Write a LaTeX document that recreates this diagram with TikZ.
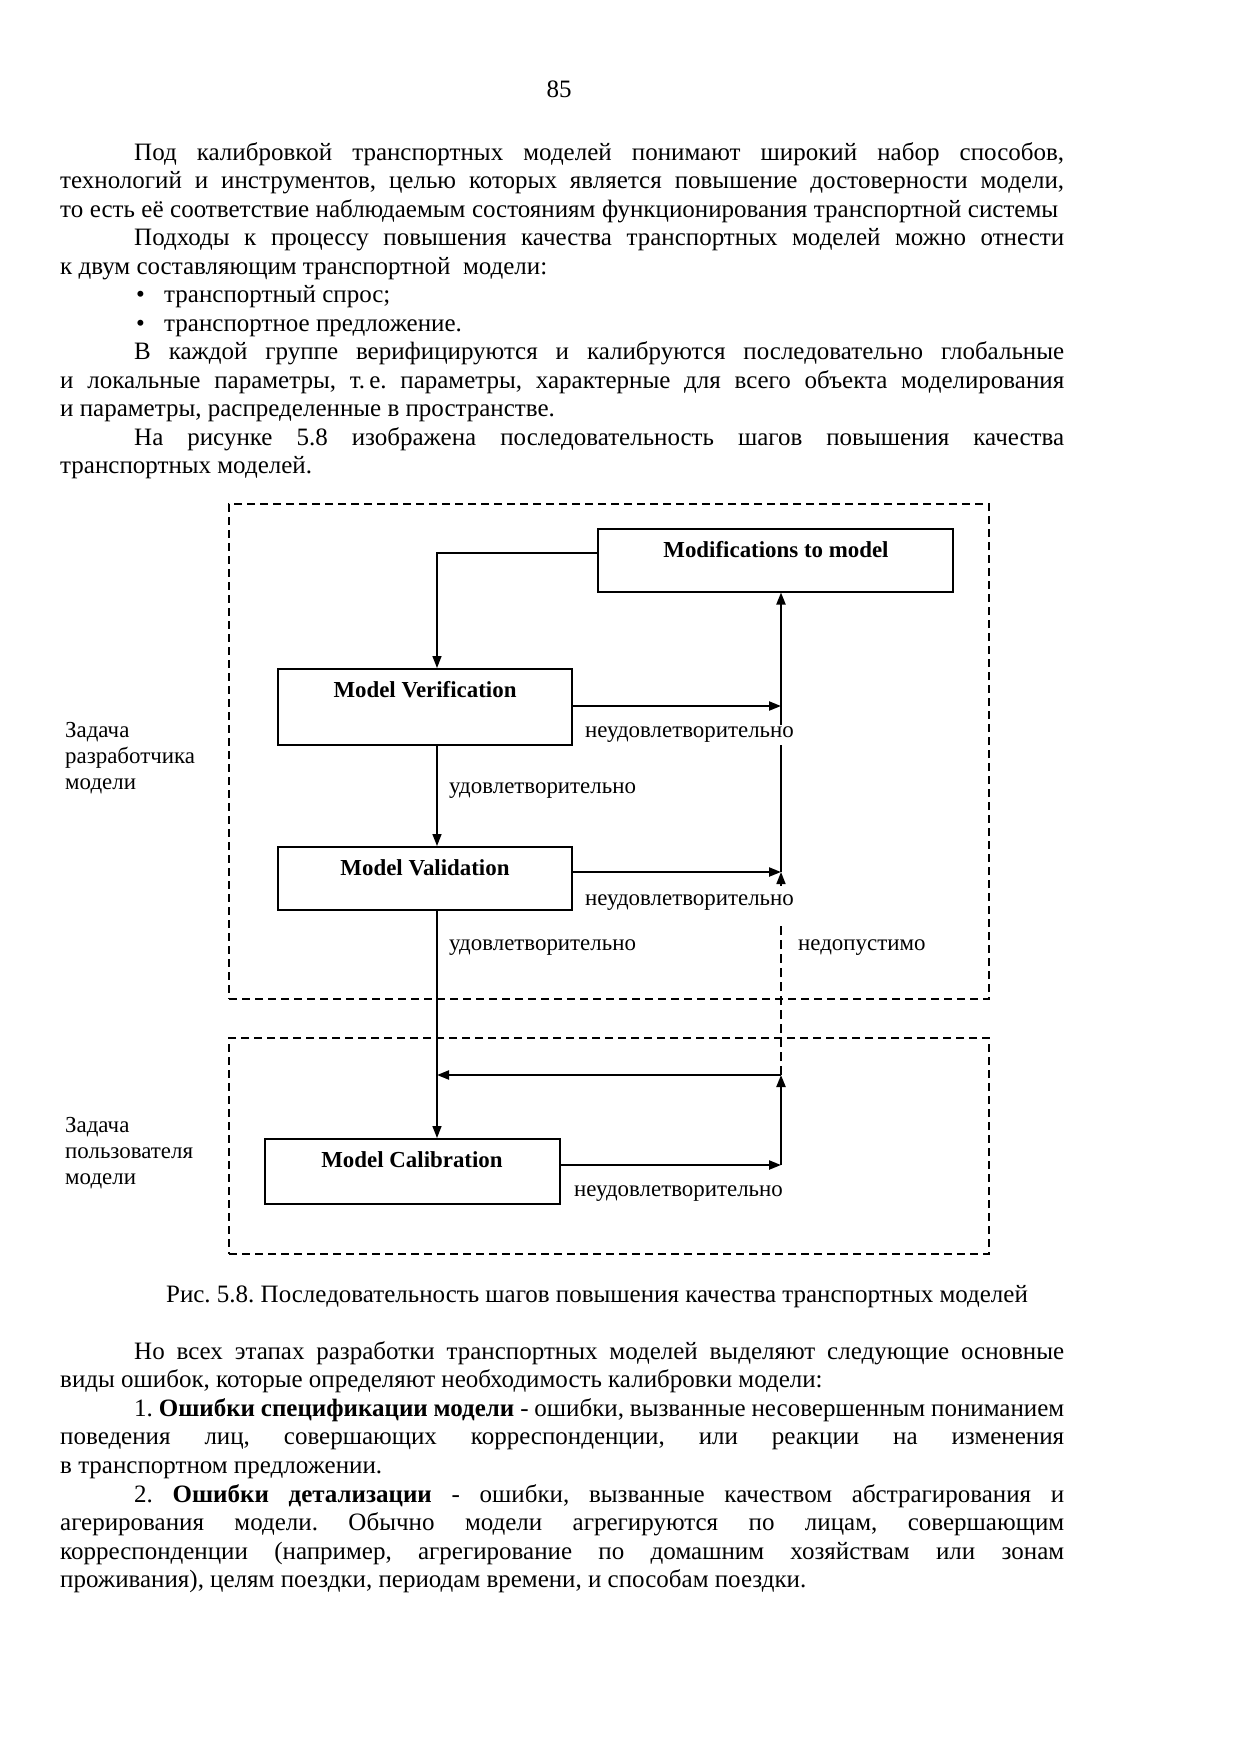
\documentclass[tikz,border=0pt]{standalone}
\usepackage{fontspec}
\setmainfont{Liberation Serif}
\usetikzlibrary{arrows.meta,calc}
\frenchspacing
\tikzset{
  body/.style={anchor=base west, inner sep=0pt, font=\fontsize{25}{28.75}\selectfont},
  diagfont/.style={font=\fontsize{22.9}{26.3}\selectfont},
  box/.style={draw, line width=1.5pt, anchor=north west, inner sep=0pt},
  boxtext/.style={font=\fontsize{22.9}{26.3}\selectfont\bfseries, inner sep=0pt},
  conn/.style={line width=2.2pt, -{Triangle[length=12pt,width=9pt]}},
  thinconn/.style={line width=1.5pt, -{Triangle[length=12pt,width=9pt]}},
  region/.style={draw, line width=2pt, dash pattern=on 8pt off 5pt},
  lbl/.style={diagfont, anchor=west, inner sep=2pt, fill=white},
  side/.style={diagfont, anchor=north west, align=left, inner sep=0pt},
}
\begin{document}
\begin{tikzpicture}[x=1pt,y=-1pt]
\useasboundingbox[fill=white] (0,0) rectangle (1240,1754);

% page number
\node[body, anchor=base] (pg) at (559,97) {85};

% upper text
\node[body] (t1) at (134,160) {\makebox[930pt][s]{Под калибровкой транспортных моделей понимают широкий набор способов,}};
\node[body] (t2) at (60,188.5) {\makebox[1004pt][s]{технологий и инструментов, целью которых является повышение достоверности модели,}};
\node[body] (t3) at (60,217) {\makebox[998pt][s]{то есть её соответствие наблюдаемым состояниям функционирования транспортной системы}};
\node[body] (t4) at (134,245.5) {\makebox[930pt][s]{Подходы к процессу повышения качества транспортных моделей можно отнести}};
\node[body] (t5) at (60,274) {к двум составляющим транспортной\ \ модели:};
\node[body] (t6b) at (136,302.5) {•};
\node[body] (t6) at (164,302.5) {транспортный спрос;};
\node[body] (t7b) at (136,331) {•};
\node[body] (t7) at (164,331) {транспортное предложение.};
\node[body] (t8) at (134,359.5) {\makebox[930pt][s]{В каждой группе верифицируются и калибруются последовательно глобальные}};
\node[body] (t9) at (60,388) {\makebox[1004pt][s]{и локальные параметры, т.\,е. параметры, характерные для всего объекта моделирования}};
\node[body] (t10) at (60,416.5) {и параметры, распределенные в пространстве.};
\node[body] (t11) at (134,445) {\makebox[930pt][s]{На рисунке 5.8 изображена последовательность шагов повышения качества}};
\node[body] (t12) at (60,473.5) {транспортных моделей.};

% regions
\node[region, anchor=north west, minimum width=760pt, minimum height=495pt, inner sep=0pt] (reg1) at (228,503) {};
\node[region, anchor=north west, minimum width=760pt, minimum height=216pt, inner sep=0pt] (reg2) at (228,1037) {};

% side labels
\node[side] (s1) at (65,722) {Задача\\разработчика\\модели};
\node[side] (s2) at (65,1117) {Задача\\пользователя\\модели};

% boxes
\node[box, minimum width=355pt, minimum height=63pt] (mod) at (597,528) {};
\node[box, minimum width=294pt, minimum height=76pt] (ver) at (277,668) {};
\node[box, minimum width=294pt, minimum height=63pt] (val) at (277,846) {};
\node[box, minimum width=295pt, minimum height=65pt] (cal) at (264,1138) {};

\node[boxtext] (modt) at (776,550) {Modifications to model};
\node[boxtext] (vert) at (425,690) {Model Verification};
\node[boxtext] (valt) at (425,868) {Model Validation};
\node[boxtext] (calt) at (412,1160) {Model Calibration};

% junction coordinates
\coordinate (l0) at (437,553);
\coordinate (l3) at (437,1075);
\coordinate (r1) at (781,706);
\coordinate (r2) at (781,872);
\coordinate (r3) at (781,1075);
\coordinate (r4) at (781,1165);
\coordinate (rd) at (781,925);
\coordinate (ra) at (781,886);

% connectors
\draw[thinconn] (mod.west |- l0) -- (l0) -- (ver.north -| l0);
\draw[thinconn] (ver.south -| l0) -- (val.north -| l0);
\draw[thinconn] (val.south -| l0) -- (cal.north -| l0);
\draw[line width=2pt, -{Triangle[length=12pt,width=9pt]}] (r2) -- (mod.south -| r2);
\draw[line width=1.5pt, dash pattern=on 9pt off 5pt] (r3) -- (rd);
\draw[line width=1.5pt, -{Triangle[length=12pt,width=9pt]}] (ra) -- (r2);
\draw[conn] (ver.east |- r1) -- (r1);
\draw[conn] (val.east |- r2) -- (r2);
\draw[conn] (cal.east |- r4) -- (r4);
\draw[conn] (r4) -- (r3);
\draw[conn] (r3) -- (l3);

% connector labels
\node[lbl] (n1) at (583,735) {неудовлетворительно};
\node[lbl] (n2) at (583,903) {неудовлетворительно};
\node[lbl] (n3) at (572,1194) {неудовлетворительно};
\node[lbl, fill=none] (u1) at (447,791) {удовлетворительно};
\node[lbl, fill=none] (u2) at (447,948) {удовлетворительно};
\node[lbl, fill=none] (nd) at (796,948) {недопустимо};

% caption
\node[body, anchor=base] (cap) at (597,1302) {Рис. 5.8. Последовательность шагов повышения качества транспортных моделей};

% lower text
\node[body] (b1) at (134,1359) {\makebox[930pt][s]{Но всех этапах разработки транспортных моделей выделяют следующие основные}};
\node[body] (b2) at (60,1387.6) {виды ошибок, которые определяют необходимость калибровки модели:};
\node[body] (b3) at (134,1416.2) {\makebox[930pt][s]{1. \textbf{Ошибки спецификации модели} - ошибки, вызванные несовершенным пониманием}};
\node[body] (b4) at (60,1444.8) {\makebox[1004pt][s]{поведения лиц, совершающих корреспонденции, или реакции на изменения}};
\node[body] (b5) at (60,1473.4) {в транспортном предложении.};
\node[body] (b6) at (134,1502) {\makebox[930pt][s]{2. \textbf{Ошибки детализации} - ошибки, вызванные качеством абстрагирования и}};
\node[body] (b7) at (60,1530.6) {\makebox[1004pt][s]{агерирования модели. Обычно модели агрегируются по лицам, совершающим}};
\node[body] (b8) at (60,1559.2) {\makebox[1004pt][s]{корреспонденции (например, агрегирование по домашним хозяйствам или зонам}};
\node[body] (b9) at (60,1587.8) {проживания), целям поездки, периодам времени, и способам поездки.};
\end{tikzpicture}
\end{document}
